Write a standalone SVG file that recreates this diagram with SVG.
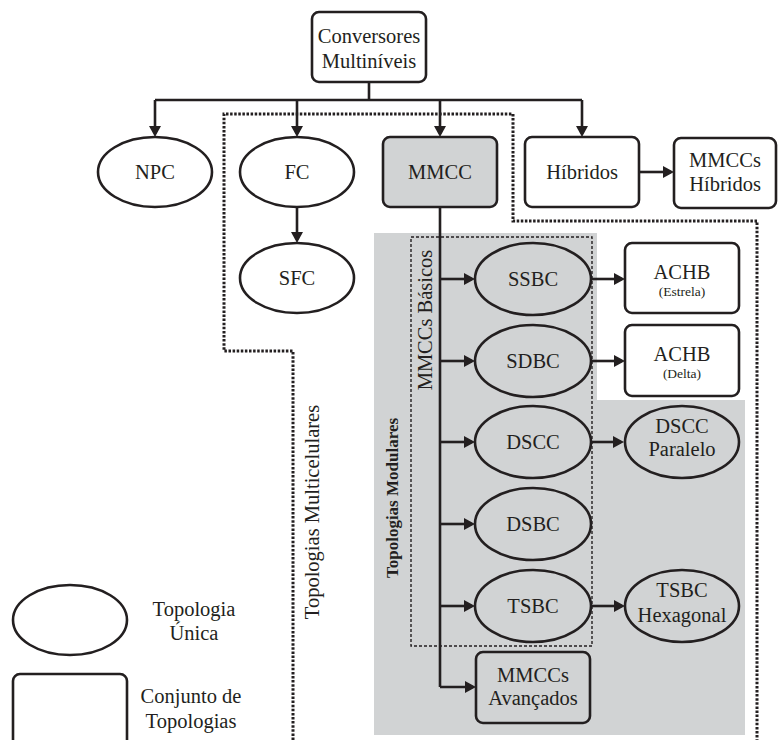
<svg xmlns="http://www.w3.org/2000/svg" width="779" height="740" viewBox="0 0 779 740">
<defs>
<style>
.t{font-family:"Liberation Serif","Times New Roman",serif;font-size:20.5px;fill:#231f20;text-anchor:middle}
.s{font-size:13.5px}
.b{font-weight:bold;font-size:17px}
.n{fill:#fff;stroke:#231f20;stroke-width:2.6}
.g{fill:#d1d3d4;stroke:#231f20;stroke-width:2.6}
.c{fill:none;stroke:#231f20;stroke-width:2.6}
.c2{fill:none;stroke:#231f20;stroke-width:2.6;marker-end:url(#ah)}
.dot{fill:none;stroke:#231f20;stroke-width:3;stroke-dasharray:2.5 1.6}
.dot2{fill:none;stroke:#231f20;stroke-width:1.4;stroke-dasharray:3 2}
</style>
<marker id="ah" viewBox="0 0 11 12" markerWidth="11" markerHeight="12" refX="8" refY="6" orient="auto" markerUnits="userSpaceOnUse">
<path d="M0,0 L11,6 L0,12 z" fill="#231f20"/>
</marker>
</defs>
<rect width="779" height="740" fill="#fff"/>
<g id="regions">
<path d="M374,233 H597 V400 H745 V735 H374 Z" fill="#d1d3d4"/>
<path class="dot" d="M293,740 V351 H224 V114 H513 V221 H757 V740"/>
<rect class="dot2" x="411" y="237" width="181" height="409"/>
<text class="t" transform="translate(319,512) rotate(-90)">Topologias Multicelulares</text>
<text class="t b" transform="translate(398,498) rotate(-90)">Topologias Modulares</text>
<text class="t" transform="translate(432,320) rotate(-90)">MMCCs Básicos</text>
</g>
<g id="connectors">
<path class="c" d="M369,82 V100 M155,100 H582 M440,207 V687"/>
<path class="c2" d="M155,100 V134"/>
<path class="c2" d="M297,100 V134"/>
<path class="c2" d="M440,100 V134"/>
<path class="c2" d="M582,100 V134"/>
<path class="c2" d="M297,207 V240"/>
<path class="c2" d="M639,172 H671"/>
<path class="c2" d="M440,279 H472"/>
<path class="c2" d="M440,361 H472"/>
<path class="c2" d="M440,442 H472"/>
<path class="c2" d="M440,524 H472"/>
<path class="c2" d="M440,606 H472"/>
<path class="c2" d="M440,687 H473"/>
<path class="c2" d="M591,279 H622"/>
<path class="c2" d="M591,361 H622"/>
<path class="c2" d="M591,442 H621"/>
<path class="c2" d="M591,606 H622"/>
</g>
<g id="conversores">
<rect class="n" x="312" y="12" width="114" height="70" rx="7"/>
<text class="t" x="369" y="43">Conversores</text>
<text class="t" x="369" y="68">Multiníveis</text>
</g>
<g id="npc">
<ellipse class="n" cx="155" cy="172" rx="57" ry="35"/>
<text class="t" x="155" y="179">NPC</text>
</g>
<g id="fc">
<ellipse class="n" cx="297" cy="172" rx="57" ry="35"/>
<text class="t" x="297" y="179">FC</text>
</g>
<g id="sfc">
<ellipse class="n" cx="297" cy="278" rx="57" ry="35"/>
<text class="t" x="297" y="285">SFC</text>
</g>
<g id="mmcc">
<rect class="g" x="383" y="137" width="114" height="70" rx="7"/>
<text class="t" x="440" y="179">MMCC</text>
</g>
<g id="hibridos">
<rect class="n" x="525" y="137" width="114" height="70" rx="7"/>
<text class="t" x="582" y="179">Híbridos</text>
</g>
<g id="mmccs-hibridos">
<rect class="n" x="674" y="138" width="102" height="70" rx="7"/>
<text class="t" x="725" y="167">MMCCs</text>
<text class="t" x="725" y="191">Híbridos</text>
</g>
<g id="ssbc">
<ellipse class="g" cx="533" cy="279" rx="58" ry="36"/>
<text class="t" x="533" y="286">SSBC</text>
</g>
<g id="sdbc">
<ellipse class="g" cx="533" cy="361" rx="58" ry="36"/>
<text class="t" x="533" y="368">SDBC</text>
</g>
<g id="dscc">
<ellipse class="g" cx="533" cy="442" rx="58" ry="36"/>
<text class="t" x="533" y="449">DSCC</text>
</g>
<g id="dsbc">
<ellipse class="g" cx="533" cy="524" rx="58" ry="36"/>
<text class="t" x="533" y="531">DSBC</text>
</g>
<g id="tsbc">
<ellipse class="g" cx="533" cy="606" rx="58" ry="36"/>
<text class="t" x="533" y="613">TSBC</text>
</g>
<g id="mmccs-avancados">
<rect class="g" x="476" y="652" width="114" height="71" rx="7"/>
<text class="t" x="533" y="682">MMCCs</text>
<text class="t" x="533" y="705">Avançados</text>
</g>
<g id="achb-estrela">
<rect class="n" x="625" y="243" width="114" height="70" rx="7"/>
<text class="t" x="682" y="279">ACHB</text>
<text class="t s" x="682" y="296">(Estrela)</text>
</g>
<g id="achb-delta">
<rect class="n" x="625" y="325" width="114" height="71" rx="7"/>
<text class="t" x="682" y="361">ACHB</text>
<text class="t s" x="682" y="378">(Delta)</text>
</g>
<g id="dscc-paralelo">
<ellipse class="g" cx="682" cy="442" rx="57" ry="36"/>
<text class="t" x="682" y="433">DSCC</text>
<text class="t" x="682" y="456">Paralelo</text>
</g>
<g id="tsbc-hexagonal">
<ellipse class="g" cx="682" cy="606" rx="57" ry="36"/>
<text class="t" x="682" y="597">TSBC</text>
<text class="t" x="682" y="622">Hexagonal</text>
</g>
<g id="legend-ellipse">
<ellipse class="n" cx="70" cy="620" rx="57" ry="35"/>
<text class="t" x="194" y="616">Topologia</text>
<text class="t" x="194" y="640">Única</text>
</g>
<g id="legend-box">
<rect class="n" x="13" y="674" width="114" height="90" rx="7"/>
<text class="t" x="191" y="703">Conjunto de</text>
<text class="t" x="191" y="728">Topologias</text>
</g>
</svg>
